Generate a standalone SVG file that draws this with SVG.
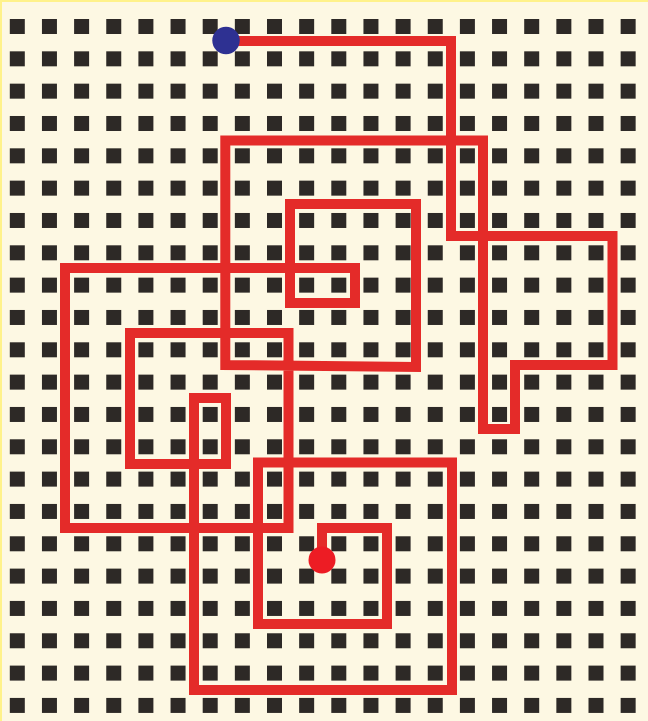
<svg xmlns="http://www.w3.org/2000/svg" xmlns:xlink="http://www.w3.org/1999/xlink" width="648" height="721" viewBox="0 0 648 721">
  <style>
    .bg { fill: #fdf8e3; }
    .frame { fill: none; stroke: #fff28a; stroke-width: 4; }
    .sq { fill: #2d2926; }
    .route { fill: none; stroke: #e42b29; stroke-width: 10; stroke-linejoin: miter; stroke-linecap: butt; }
    .start { fill: #2e3192; }
    .end { fill: #ed1c24; }
  </style>
  <defs>
    <g id="row">
      <rect class="sq" x="9.8" y="0" width="15" height="15"/>
      <rect class="sq" x="41.95" y="0" width="15" height="15"/>
      <rect class="sq" x="74.1" y="0" width="15" height="15"/>
      <rect class="sq" x="106.25" y="0" width="15" height="15"/>
      <rect class="sq" x="138.4" y="0" width="15" height="15"/>
      <rect class="sq" x="170.55" y="0" width="15" height="15"/>
      <rect class="sq" x="202.7" y="0" width="15" height="15"/>
      <rect class="sq" x="234.85" y="0" width="15" height="15"/>
      <rect class="sq" x="267" y="0" width="15" height="15"/>
      <rect class="sq" x="299.15" y="0" width="15" height="15"/>
      <rect class="sq" x="331.3" y="0" width="15" height="15"/>
      <rect class="sq" x="363.45" y="0" width="15" height="15"/>
      <rect class="sq" x="395.6" y="0" width="15" height="15"/>
      <rect class="sq" x="427.75" y="0" width="15" height="15"/>
      <rect class="sq" x="459.9" y="0" width="15" height="15"/>
      <rect class="sq" x="492.05" y="0" width="15" height="15"/>
      <rect class="sq" x="524.2" y="0" width="15" height="15"/>
      <rect class="sq" x="556.35" y="0" width="15" height="15"/>
      <rect class="sq" x="588.5" y="0" width="15" height="15"/>
      <rect class="sq" x="620.65" y="0" width="15" height="15"/>
    </g>
  </defs>
  <rect class="bg" x="0" y="0" width="648" height="721"/>
  <path class="frame" d="M0,721 V0 H648"/>
  <g id="grid">
    <use xlink:href="#row" y="19"/>
    <use xlink:href="#row" y="51.33"/>
    <use xlink:href="#row" y="83.66"/>
    <use xlink:href="#row" y="115.99"/>
    <use xlink:href="#row" y="148.32"/>
    <use xlink:href="#row" y="180.65"/>
    <use xlink:href="#row" y="212.98"/>
    <use xlink:href="#row" y="245.31"/>
    <use xlink:href="#row" y="277.64"/>
    <use xlink:href="#row" y="309.97"/>
    <use xlink:href="#row" y="342.3"/>
    <use xlink:href="#row" y="374.63"/>
    <use xlink:href="#row" y="406.96"/>
    <use xlink:href="#row" y="439.29"/>
    <use xlink:href="#row" y="471.62"/>
    <use xlink:href="#row" y="503.95"/>
    <use xlink:href="#row" y="536.28"/>
    <use xlink:href="#row" y="568.61"/>
    <use xlink:href="#row" y="600.94"/>
    <use xlink:href="#row" y="633.27"/>
    <use xlink:href="#row" y="665.6"/>
    <use xlink:href="#row" y="697.93"/>
  </g>
  <g id="connectors">
    <path class="route" d="M226,41 H451 V236 H612.5 V365 H515 V429 H483 V140.5 H225.3 V365 L416,367 V204 H290 V303 H355 V268 H65 V528 H288.5 V333 H130 V464 H226 V398 H194 V690 H452 V462.5 H258 V624 H387 V528 H322 V556"/>
  </g>
  <g id="start">
    <circle class="start" cx="226" cy="40.5" r="13.7"/>
  </g>
  <g id="end">
    <circle class="end" cx="322" cy="560" r="13.5"/>
  </g>
</svg>
